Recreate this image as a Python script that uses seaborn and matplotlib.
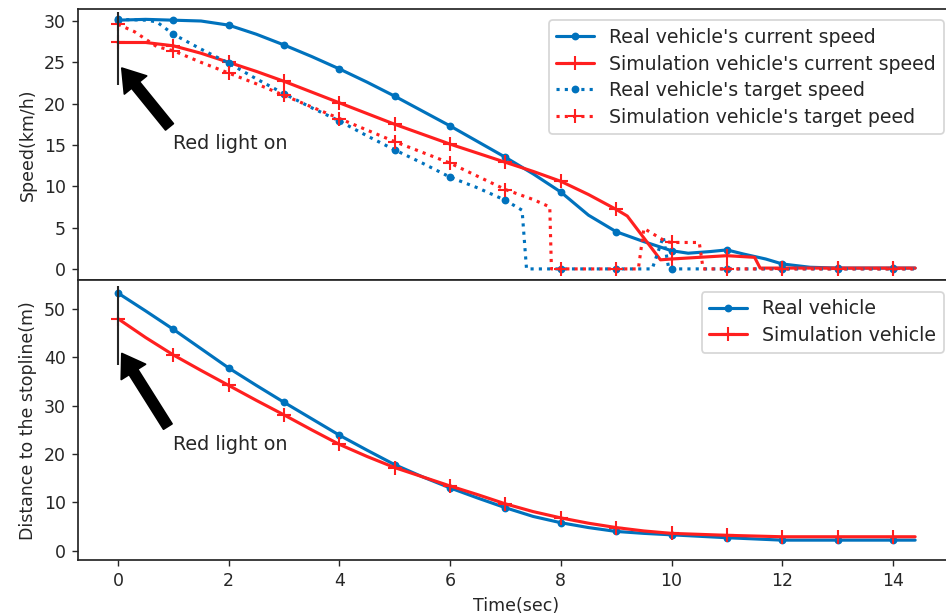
import numpy as np
import pandas as pd
import seaborn as sns
import matplotlib.pyplot as plt

# ---- top panel: speed (km/h) ----
t_real_cur = [0, 0.5, 1, 1.5, 2, 2.5, 3, 3.5, 4, 4.5, 5, 5.5, 6, 6.5, 7, 7.5, 8, 8.5, 9, 9.5,
              10, 10.3, 10.7, 11, 11.3, 11.7, 12, 12.5, 13, 13.5, 14, 14.4]
v_real_cur = [30.1, 30.2, 30.1, 30.0, 29.5, 28.4, 27.1, 25.7, 24.2, 22.6, 20.9, 19.1, 17.3, 15.4,
              13.5, 11.5, 9.3, 6.5, 4.5, 3.3, 2.2, 1.9, 2.1, 2.3, 1.8, 1.2, 0.6, 0.2, 0.1, 0.1, 0.1, 0.1]

t_sim_cur = [0, 0.5, 1, 1.5, 2, 2.5, 3, 3.5, 4, 4.5, 5, 5.5, 6, 6.5, 7, 7.5, 8, 8.5, 9, 9.2,
             9.8, 10, 10.5, 11, 11.5, 11.6, 12, 13, 14, 14.4]
v_sim_cur = [27.4, 27.4, 27.0, 26.1, 25.0, 23.9, 22.7, 21.4, 20.1, 18.8, 17.5, 16.3, 15.1, 14.0,
             12.9, 11.8, 10.6, 9.0, 7.2, 6.4, 1.1, 1.2, 1.4, 1.6, 1.4, 0.1, 0.1, 0.1, 0.1, 0.1]

t_real_tgt = [0, 0.5, 0.7, 1, 1.5, 2, 2.5, 3, 3.5, 4, 4.5, 5, 5.5, 6, 6.5, 7, 7.3, 7.38, 8, 9,
              9.65, 9.85, 9.95, 10, 11, 12, 13, 14, 14.4]
v_real_tgt = [30.2, 30.1, 29.9, 28.4, 26.6, 24.9, 23.0, 21.2, 19.5, 17.9, 16.1, 14.4, 12.8, 11.1,
              9.8, 8.3, 7.1, 0.0, 0.0, 0.0, 0.0, 3.9, 0.0, 0.0, 0.0, 0.0, 0.0, 0.0, 0.0]

t_sim_tgt = [0, 0.3, 0.7, 1, 1.5, 2, 2.5, 3, 3.5, 4, 4.5, 5, 5.5, 6, 6.5, 7, 7.5, 7.8, 7.83, 8,
             9, 9.4, 9.5, 9.9, 10, 10.5, 10.57, 11, 12, 13, 14, 14.4]
v_sim_tgt = [29.6, 28.7, 26.9, 26.4, 25.0, 23.7, 22.4, 21.0, 19.6, 18.2, 16.8, 15.4, 14.1, 12.8,
             11.2, 9.6, 8.4, 7.5, 0.0, 0.0, 0.0, 0.0, 4.9, 3.3, 3.2, 3.2, 0.0, 0.0, 0.0, 0.0, 0.0, 0.0]

# ---- bottom panel: distance to stopline (m) ----
t_dist = [0, 0.5, 1, 1.5, 2, 2.5, 3, 3.5, 4, 4.5, 5, 5.5, 6, 6.5, 7, 7.5, 8, 8.5, 9, 9.5,
          10, 11, 12, 13, 14, 14.4]
d_real = [53.3, 49.6, 45.8, 41.8, 37.8, 34.2, 30.7, 27.3, 23.9, 20.8, 17.8, 15.3, 13.0, 10.9,
          8.9, 7.1, 5.8, 4.8, 4.0, 3.6, 3.3, 2.7, 2.2, 2.2, 2.2, 2.2]
d_sim = [48.0, 44.1, 40.5, 37.3, 34.2, 31.1, 28.1, 25.0, 22.0, 19.5, 17.2, 15.3, 13.4, 11.6,
         9.7, 8.1, 6.8, 5.7, 4.8, 4.1, 3.6, 3.2, 2.9, 2.9, 2.9, 2.9]

BLUE = "#0072bd"
RED = "#ff1f1f"
DPI = 125


def marks(t):
    # markers only on whole seconds
    return [i for i, v in enumerate(t) if float(v).is_integer()]


def draw(ax, t, v, color, marker, ls, label):
    if marker == "o":
        mkw = dict(marker="o", markersize=4.5, mec=color, mew=0)
    else:
        mkw = dict(marker="+", markersize=8, mec=color, mew=1.2)
    sns.lineplot(x=t, y=v, ax=ax, color=color, lw=1.8, ls=ls, sort=False,
                 estimator=None, markevery=marks(t), label=label, **mkw)


sns.set_style("ticks")
fig = plt.figure(figsize=(946 / DPI, 614 / DPI), dpi=DPI)
left, right = 78.1 / 946, 955 / 946
ax1 = fig.add_axes([left, 0.5432, right - left, 0.9853 - 0.5432])
ax2 = fig.add_axes([left, 0.088, right - left, 0.5432 - 0.088], sharex=ax1)

draw(ax1, t_real_cur, v_real_cur, BLUE, "o", "-", "Real vehicle's current speed")
draw(ax1, t_sim_cur, v_sim_cur, RED, "+", "-", "Simulation vehicle's current speed")
draw(ax1, t_real_tgt, v_real_tgt, BLUE, "o", ":", "Real vehicle's target speed")
draw(ax1, t_sim_tgt, v_sim_tgt, RED, "+", ":", "Simulation vehicle's target peed")

draw(ax2, t_dist, d_real, BLUE, "o", "-", "Real vehicle")
draw(ax2, t_dist, d_sim, RED, "+", "-", "Simulation vehicle")

arrow = dict(facecolor="black", edgecolor="black", width=5.8, headwidth=16.5,
             headlength=12.5, shrink=0)
ax1.vlines(0, 22.2, 31.1, color="0.15", lw=1.2)
ax1.annotate("", xy=(0.07, 24.3), xytext=(0.93, 17.2), arrowprops=arrow)
ax1.text(0.99, 15.2, "Red light on", ha="left", va="center", color="0.15", fontsize=11)

ax2.vlines(0, 38.4, 54.8, color="0.15", lw=1.2)
ax2.annotate("", xy=(0.07, 40.8), xytext=(0.9, 25.7), arrowprops=arrow)
ax2.text(0.99, 22.0, "Red light on", ha="left", va="center", color="0.15", fontsize=11)

ax1.set_xlim(-0.72, 15.12)
ax1.set_ylim(-1.4, 31.45)
ax1.set_yticks([0, 5, 10, 15, 20, 25, 30])
ax2.set_ylim(-1.9, 55.9)
ax2.set_yticks([0, 10, 20, 30, 40, 50])
ax2.set_xticks([0, 2, 4, 6, 8, 10, 12, 14])
ax1.tick_params(axis="x", bottom=False, labelbottom=False)

ax1.set_ylabel("Speed(km/h)", fontsize=10)
ax2.set_ylabel("Distance to the stopline(m)", fontsize=10)
ax2.set_xlabel("Time(sec)", fontsize=10)
ax1.set_xlabel("")

ax1.legend(loc="upper right", fontsize=10.9, labelspacing=0.4, borderaxespad=0.6)
ax2.legend(loc="upper right", fontsize=10.9, labelspacing=0.4, borderaxespad=0.6)

for ax in (ax1, ax2):
    for s in ax.spines.values():
        s.set_color("0.15")
        s.set_linewidth(1.0)

fig.savefig("out.png", dpi=DPI)
